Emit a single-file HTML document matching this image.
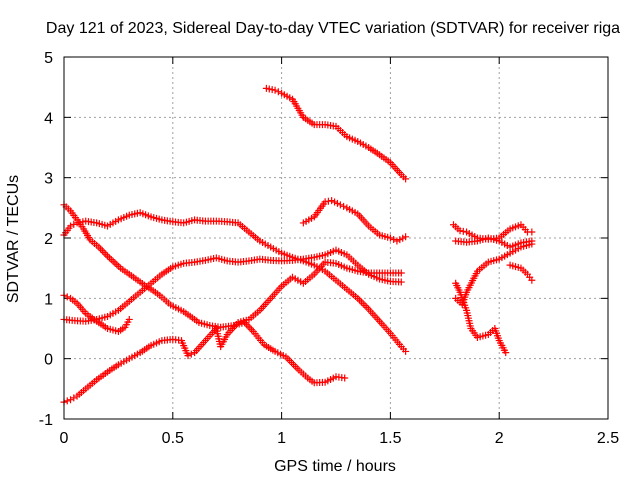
<!DOCTYPE html>
<html><head><meta charset="utf-8"><style>
body{margin:0;background:#fff}
svg{font-family:"Liberation Sans",sans-serif;font-size:16px}
</style></head><body>
<svg id="c" width="640" height="480">
<text x="333" y="33" text-anchor="middle">Day 121 of 2023, Sidereal Day-to-day VTEC variation (SDTVAR) for receiver riga</text>
<text x="335" y="471" text-anchor="middle">GPS time / hours</text>
<text transform="translate(18,239) rotate(-90)" text-anchor="middle">SDTVAR / TECUs</text>
<g id="grid"></g><g id="marks"></g>
<rect x="64" y="57" width="544" height="362" fill="none" stroke="#000"/>
</svg>
<script>
const xTicks=[0,0.5,1,1.5,2,2.5];
const xTickLabels=["0","0.5","1","1.5","2","2.5"];
const yTicks=[-1,0,1,2,3,4,5];
const yTickLabels=["-1","0","1","2","3","4","5"];
const sA_x=[0,0.03,0.06,0.09,0.12,0.16,0.2,0.26,0.3,0.37,0.4,0.44,0.49,0.55,0.62,0.67,0.72,0.78,0.83,0.87,0.92,0.97,1.02,1.08,1.12,1.15,1.2,1.25,1.29];
const sA_y=[2.55,2.45,2.3,2.15,1.97,1.85,1.7,1.5,1.4,1.22,1.15,1.05,0.89,0.78,0.6,0.55,0.52,0.55,0.6,0.45,0.23,0.12,0.03,-0.19,-0.32,-0.4,-0.39,-0.3,-0.32];
const sB_x=[0,0.03,0.06,0.1,0.15,0.2,0.25,0.3,0.35,0.4,0.45,0.5,0.55,0.6,0.65,0.7,0.75,0.8,0.85,0.9,0.95,1.0,1.05,1.1,1.15,1.2,1.25,1.3,1.35,1.4,1.45,1.5,1.55,1.57];
const sB_y=[2.05,2.2,2.25,2.28,2.25,2.2,2.3,2.38,2.42,2.35,2.3,2.27,2.25,2.3,2.28,2.28,2.27,2.25,2.1,1.95,1.85,1.75,1.68,1.62,1.55,1.45,1.3,1.15,1.0,0.82,0.62,0.42,0.2,0.12];
const sC_x=[0,0.05,0.1,0.15,0.2,0.25,0.3,0.35,0.4,0.45,0.5,0.55,0.6,0.65,0.7,0.75,0.8,0.85,0.9,0.95,1.0,1.05,1.1,1.15,1.2,1.25,1.3,1.35,1.4,1.45,1.5,1.55];
const sC_y=[0.65,0.63,0.62,0.65,0.7,0.8,0.95,1.1,1.25,1.4,1.52,1.58,1.6,1.63,1.67,1.62,1.6,1.62,1.65,1.63,1.62,1.63,1.65,1.68,1.72,1.8,1.72,1.55,1.4,1.32,1.28,1.27];
const sD_x=[0,0.03,0.06,0.1,0.15,0.2,0.25,0.3,0.35,0.4,0.45,0.5,0.54,0.57,0.6,0.65,0.7,0.72,0.75,0.8,0.85,0.9,0.95,1.0,1.05,1.1,1.15,1.2,1.25,1.3,1.35,1.4,1.45,1.5,1.55];
const sD_y=[-0.72,-0.68,-0.62,-0.5,-0.35,-0.22,-0.1,0.0,0.1,0.22,0.3,0.32,0.3,0.05,0.1,0.3,0.5,0.2,0.4,0.6,0.65,0.8,1.0,1.2,1.35,1.25,1.4,1.6,1.58,1.5,1.45,1.42,1.42,1.42,1.42];
const sE_x=[0,0.03,0.06,0.1,0.15,0.2,0.25,0.28,0.3];
const sE_y=[1.05,1.0,0.92,0.75,0.62,0.5,0.45,0.52,0.65];
const sF_x=[0.93,0.97,1.0,1.05,1.1,1.15,1.2,1.25,1.3,1.35,1.4,1.45,1.5,1.55,1.57];
const sF_y=[4.48,4.45,4.4,4.3,4.0,3.88,3.88,3.85,3.68,3.6,3.5,3.38,3.25,3.05,2.98];
const sG_x=[1.1,1.15,1.2,1.23,1.27,1.3,1.35,1.4,1.45,1.5,1.53,1.57];
const sG_y=[2.25,2.35,2.6,2.62,2.55,2.5,2.4,2.2,2.05,2.0,1.95,2.02];
const sH_x=[1.79,1.82,1.85,1.9,1.95,2.0,2.05,2.1,2.13,2.15];
const sH_y=[2.22,2.12,2.1,2.0,1.98,2.0,2.15,2.22,2.1,2.1];
const sI_x=[1.8,1.85,1.9,1.95,2.0,2.05,2.1,2.15];
const sI_y=[1.95,1.93,1.95,2.0,1.95,1.85,1.92,1.95];
const sJ_x=[1.8,1.83,1.85,1.9,1.95,2.0,2.05,2.1,2.15];
const sJ_y=[1.0,0.9,1.1,1.45,1.6,1.65,1.75,1.85,1.9];
const sK_x=[1.8,1.82,1.85,1.87,1.9,1.95,1.98,2.0,2.03];
const sK_y=[1.25,1.1,0.8,0.5,0.35,0.4,0.5,0.3,0.1];
const sL_x=[2.05,2.1,2.13,2.15];
const sL_y=[1.55,1.5,1.4,1.3];
const series=[[sA_x,sA_y],[sB_x,sB_y],[sC_x,sC_y],[sD_x,sD_y],[sE_x,sE_y],[sF_x,sF_y],[sG_x,sG_y],[sH_x,sH_y],[sI_x,sI_y],[sJ_x,sJ_y],[sK_x,sK_y],[sL_x,sL_y]];
const X=v=>64+v*217.6, Y=v=>419-(v+1)*60.33;
const NS="http://www.w3.org/2000/svg";
const svg=document.getElementById('c'),grid=document.getElementById('grid'),marks=document.getElementById('marks');
function mk(t,a,p){const e=document.createElementNS(NS,t);for(const k in a)e.setAttribute(k,a[k]);p.appendChild(e);return e;}
xTicks.forEach((t,i)=>{
 const x=X(t);
 if(i>0&&i<xTicks.length-1){const g=mk('line',{x1:x,y1:57,x2:x,y2:419,stroke:'#a0a0a0','stroke-dasharray':'2,3'},grid);
 
 }
 mk('line',{x1:x,y1:419,x2:x,y2:412,stroke:'#000'},grid);mk('line',{x1:x,y1:57,x2:x,y2:64,stroke:'#000'},grid);
 const l=mk('text',{x:x,y:443,'text-anchor':'middle'},svg);l.textContent=xTickLabels[i];
 
 
});
yTicks.forEach((t,i)=>{
 const y=Y(t);
 if(i>0&&i<yTicks.length-1){const g=mk('line',{x1:64,y1:y,x2:608,y2:y,stroke:'#a0a0a0','stroke-dasharray':'2,3'},grid);
 
 }
 mk('line',{x1:64,y1:y,x2:71,y2:y,stroke:'#000'},grid);mk('line',{x1:608,y1:y,x2:601,y2:y,stroke:'#000'},grid);
 const l=mk('text',{x:53,y:y+6,'text-anchor':'end'},svg);l.textContent=yTickLabels[i];
 
 
});
function plus(x,y){
 const p=mk('path',{d:`M${x-3.5},${y}h7M${x},${y-3.5}v7`,stroke:'#f00','stroke-width':1.2,fill:'none'},marks);
 
 
}
series.forEach(([xs,ys])=>{
 xs.forEach((xv,i)=>{
  const x=X(xv),y=Y(ys[i]);
  plus(x,y);
  if(i<xs.length-1){
   const x2=X(xs[i+1]),y2=Y(ys[i+1]);
   const n=Math.floor(Math.hypot(x2-x,y2-y)/2.5);
   for(let k=1;k<n;k++)plus(x+(x2-x)*k/n,y+(y2-y)*k/n);
  }
 });
});
</script>
</body></html>
